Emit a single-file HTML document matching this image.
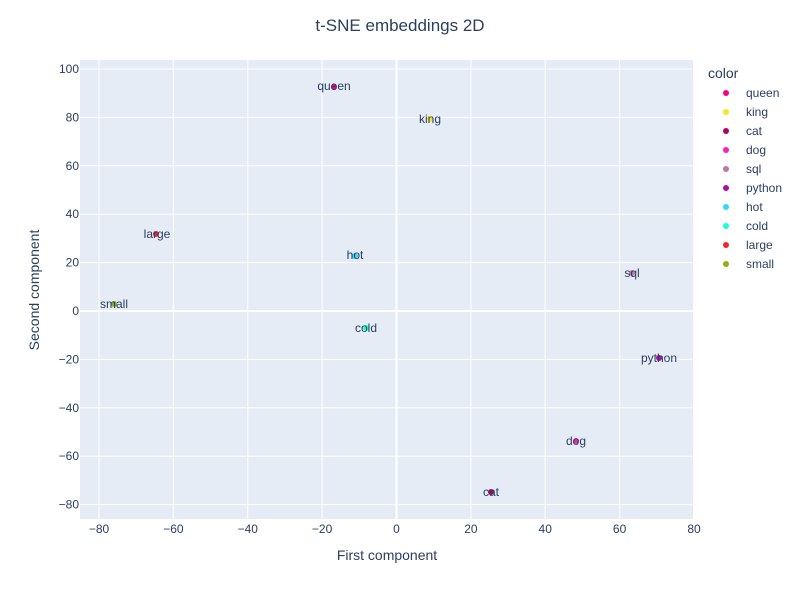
<!DOCTYPE html><html><head><style>body{margin:0;background:#fff}svg{font-family:"Liberation Sans",Arial,sans-serif}</style></head><body>
<svg width="800" height="600" xmlns="http://www.w3.org/2000/svg">
<rect width="800" height="600" fill="#fff"/>
<rect x="80" y="60" width="613" height="459" fill="#e5ecf6"/>
<g stroke="#fff" stroke-width="1">
<line x1="99" y1="60" x2="99" y2="519"/><line x1="173.4" y1="60" x2="173.4" y2="519"/><line x1="247.8" y1="60" x2="247.8" y2="519"/><line x1="322.1" y1="60" x2="322.1" y2="519"/><line x1="470.9" y1="60" x2="470.9" y2="519"/><line x1="545.2" y1="60" x2="545.2" y2="519"/><line x1="619.6" y1="60" x2="619.6" y2="519"/>
<line x1="80" y1="69" x2="693" y2="69"/><line x1="80" y1="117.4" x2="693" y2="117.4"/><line x1="80" y1="165.8" x2="693" y2="165.8"/><line x1="80" y1="214.2" x2="693" y2="214.2"/><line x1="80" y1="262.6" x2="693" y2="262.6"/><line x1="80" y1="359.4" x2="693" y2="359.4"/><line x1="80" y1="407.8" x2="693" y2="407.8"/><line x1="80" y1="456.2" x2="693" y2="456.2"/><line x1="80" y1="504.6" x2="693" y2="504.6"/>
<line x1="396.5" y1="60" x2="396.5" y2="519" stroke-width="2"/><line x1="80" y1="311" x2="693" y2="311" stroke-width="2"/>
</g>
<g font-size="12" fill="#2a3f5f" text-anchor="middle">
<text x="99" y="533">−80</text><text x="173.4" y="533">−60</text><text x="247.8" y="533">−40</text><text x="322.1" y="533">−20</text><text x="396.5" y="533">0</text><text x="470.9" y="533">20</text><text x="545.2" y="533">40</text><text x="619.6" y="533">60</text><text x="694" y="533">80</text>
</g>
<g font-size="12" fill="#2a3f5f" text-anchor="end">
<text x="79" y="73">100</text><text x="79" y="121.4">80</text><text x="79" y="169.8">60</text><text x="79" y="218.2">40</text><text x="79" y="266.6">20</text><text x="79" y="315">0</text><text x="79" y="363.4">−20</text><text x="79" y="411.8">−40</text><text x="79" y="460.2">−60</text><text x="79" y="508.6">−80</text>
</g>
<text x="400" y="31" font-size="17" fill="#2a3f5f" text-anchor="middle">t-SNE embeddings 2D</text>
<text x="387" y="560" font-size="14" fill="#2a3f5f" text-anchor="middle">First component</text>
<text transform="translate(39,290) rotate(-90)" font-size="14" fill="#2a3f5f" text-anchor="middle">Second component</text>
<g font-size="12" fill="#2a3f5f" text-anchor="middle">
<circle cx="334" cy="87" r="3" fill="#FA0087"/><text x="334" y="90">queen</text>
<circle cx="430" cy="119" r="3" fill="#FBE426"/><text x="430" y="123">king</text>
<circle cx="156" cy="234" r="3" fill="#F6222E"/><text x="157" y="238">large</text>
<circle cx="355" cy="256" r="3" fill="#2ED9FF"/><text x="355" y="259">hot</text>
<circle cx="114" cy="304" r="3" fill="#90AD1C"/><text x="114" y="308">small</text>
<circle cx="366" cy="328" r="3" fill="#1CFFCE"/><text x="366" y="332">cold</text>
<circle cx="632" cy="273" r="3" fill="#C075A6"/><text x="632" y="277">sql</text>
<circle cx="659" cy="358" r="3" fill="#B10DA1"/><text x="659" y="362">python</text>
<circle cx="576" cy="441" r="3" fill="#FC1CBF"/><text x="576" y="445">dog</text>
<circle cx="491" cy="492" r="3" fill="#B00068"/><text x="491" y="496">cat</text>
</g>
<text x="708" y="78" font-size="14" fill="#2a3f5f">color</text>
<g font-size="12" fill="#2a3f5f">
<circle cx="726" cy="93" r="3" fill="#FA0087"/><text x="746" y="97">queen</text>
<circle cx="726" cy="112" r="3" fill="#FBE426"/><text x="746" y="116">king</text>
<circle cx="726" cy="131" r="3" fill="#B00068"/><text x="746" y="135">cat</text>
<circle cx="726" cy="150" r="3" fill="#FC1CBF"/><text x="746" y="154">dog</text>
<circle cx="726" cy="169" r="3" fill="#C075A6"/><text x="746" y="173">sql</text>
<circle cx="726" cy="188" r="3" fill="#B10DA1"/><text x="746" y="192">python</text>
<circle cx="726" cy="207" r="3" fill="#2ED9FF"/><text x="746" y="211">hot</text>
<circle cx="726" cy="226" r="3" fill="#1CFFCE"/><text x="746" y="230">cold</text>
<circle cx="726" cy="245" r="3" fill="#F6222E"/><text x="746" y="249">large</text>
<circle cx="726" cy="264" r="3" fill="#90AD1C"/><text x="746" y="268">small</text>
</g>
</svg></body></html>
